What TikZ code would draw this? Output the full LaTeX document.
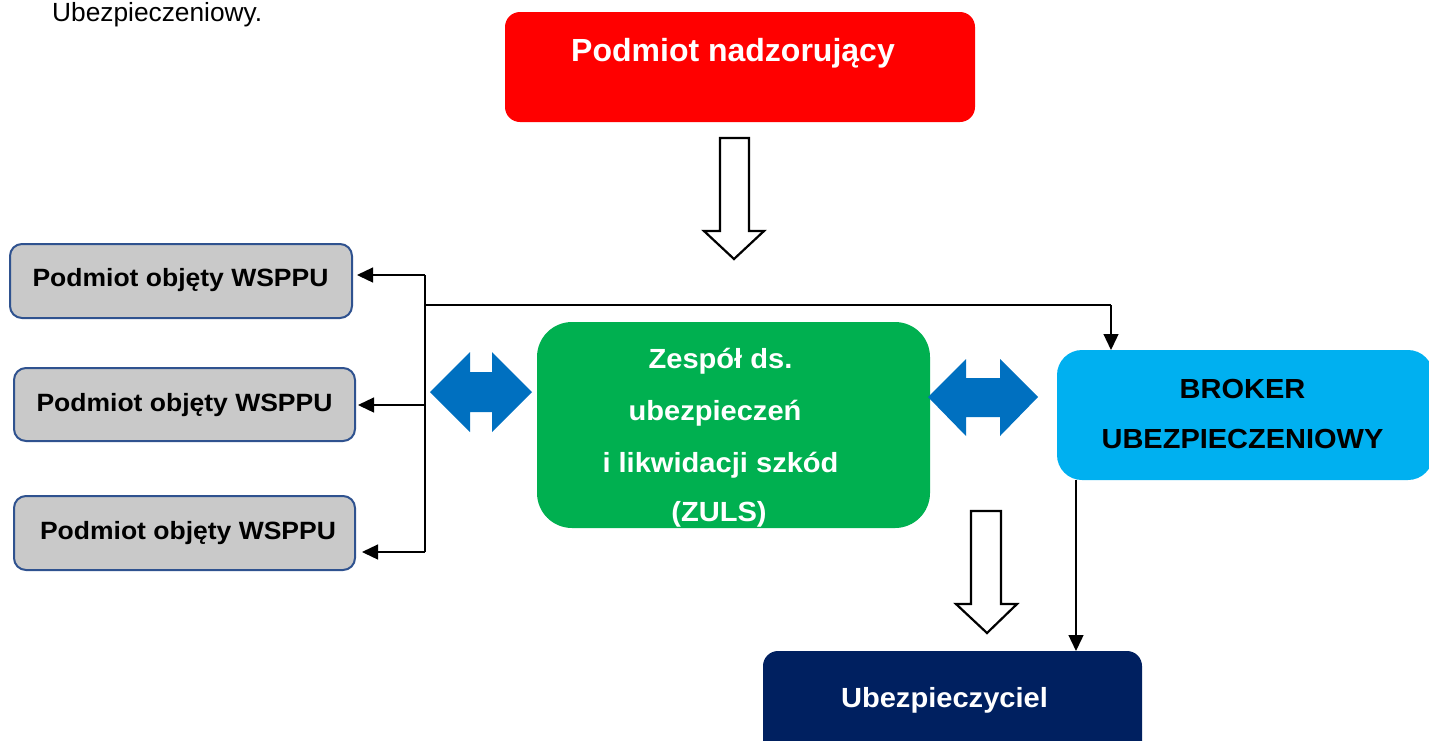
\documentclass[tikz,border=0pt]{standalone}
\usepackage{fontspec}
\setmainfont{Liberation Sans}
\newfontfamily\wideA[FakeStretch=1.05]{Liberation Sans}
\newfontfamily\wideB[FakeStretch=1.06]{Liberation Sans}
\usetikzlibrary{arrows.meta}
\definecolor{redbox}{RGB}{255,0,0}
\definecolor{greenbox}{RGB}{0,176,80}
\definecolor{cyanbox}{RGB}{0,176,240}
\definecolor{navybox}{RGB}{0,32,96}
\definecolor{graybox}{RGB}{201,201,201}
\definecolor{grayborder}{RGB}{47,82,143}
\definecolor{dblblue}{RGB}{0,112,192}
\tikzset{
  box/.style={rounded corners=#1, inner sep=0pt, outer sep=0pt},
  graynode/.style={box=12pt, fill=graybox, draw=grayborder, line width=2pt},
  conn/.style={line width=1.3pt, -{Triangle[length=16pt,width=15pt]}},
  plain/.style={line width=1.3pt},
  hollow/.style={draw=black, line width=2.2pt, fill=white, line join=miter},
  dbl/.style={fill=dblblue},
  btxt/.style={font=\wideB\fontsize{25}{30}\selectfont\bfseries, inner sep=0pt, anchor=base},
  wtxt/.style={font=\wideA\fontsize{27.7}{33}\selectfont\bfseries, text=white, inner sep=0pt, anchor=base},
  ktxt/.style={font=\wideA\fontsize{27.6}{33}\selectfont\bfseries, inner sep=0pt, anchor=base},
}
\begin{document}
\begin{tikzpicture}[x=1pt,y=-1pt]
\useasboundingbox (0,0) rectangle (1429,740);
\clip (0,0) rectangle (1429,740);
% top-left fragment
\node[anchor=base west, inner sep=0pt, font=\fontsize{26.3}{30}\selectfont] (frag) at (52,21) {Ubezpieczeniowy.};
% red box
\node[box=15pt, fill=redbox, minimum width=470pt, minimum height=110pt] (red) at (740,67) {};
\node[font=\fontsize{32}{38}\selectfont\bfseries, text=white, inner sep=0pt, anchor=base] (redt) at (733,61.7) {Podmiot nadzorujący};
% hollow arrow 1
\draw[hollow] (720,138) -- (749,138) -- (749,231) -- (764,231) -- (734,259) -- (704,231) -- (720,231) -- cycle;
% gray boxes
\node[graynode, minimum width=342pt, minimum height=74pt] (g1) at (181,281) {};
\node[btxt] (g1t) at (180.5,286) {Podmiot objęty WSPPU};
\node[graynode, minimum width=341pt, minimum height=73pt] (g2) at (184.5,404.5) {};
\node[btxt] (g2t) at (184.5,411) {Podmiot objęty WSPPU};
\node[graynode, minimum width=341pt, minimum height=74pt] (g3) at (184.5,533) {};
\node[btxt] (g3t) at (188,539) {Podmiot objęty WSPPU};
% green box
\node[box=35pt, fill=greenbox, minimum width=393pt, minimum height=206pt] (green) at (733.5,425) {};
\node[wtxt] (gt1) at (720.5,368.3) {Zespół ds.};
\node[wtxt] (gt2) at (715,420) {ubezpieczeń};
\node[wtxt] (gt3) at (720.5,472) {i likwidacji szkód};
\node[wtxt] (gt4) at (719,521) {(ZULS)};
% broker box
\node[box=25pt, fill=cyanbox, minimum width=376pt, minimum height=130pt] (broker) at (1245,415) {};
\node[ktxt] (bt1) at (1242.5,398) {BROKER};
\node[ktxt] (bt2) at (1242.5,448.5) {UBEZPIECZENIOWY};
% navy box
\node[box=15pt, fill=navybox, minimum width=379pt, minimum height=110pt] (navy) at (952.5,706) {};
\node[wtxt] (nt) at (944.5,707) {Ubezpieczyciel};
% double arrows
\fill[dbl] (430,392) -- (470,352) -- (470,372) -- (492,372) -- (492,352) -- (532,392) -- (492,432) -- (492,412) -- (470,412) -- (470,432) -- cycle;
\fill[dbl] (928,397) -- (966,359) -- (966,378) -- (1000,378) -- (1000,359) -- (1038,397) -- (1000,436) -- (1000,417) -- (966,417) -- (966,436) -- cycle;
% hollow arrow 2
\draw[hollow] (971,511) -- (1001,511) -- (1001,604) -- (1017,604) -- (987,633) -- (956,604) -- (971,604) -- cycle;
% connectors
\coordinate (ja) at (425,275);
\coordinate (jb) at (425,405);
\coordinate (jc) at (425,552);
\coordinate (jt) at (425,305);
\coordinate (jr) at (1111,305);
\draw[plain] (ja) -- (jc);
\draw[plain] (jt) -- (jr);
\draw[conn] (ja) -- ([xshift=5pt]g1.east |- ja);
\draw[conn] (jb) -- ([xshift=3pt]g2.east |- jb);
\draw[conn] (jc) -- ([xshift=7pt]g3.east |- jc);
\draw[conn] (jr) -- (jr |- broker.north);
\coordinate (bb) at (1076,480);
\draw[conn] (bb) -- (bb |- navy.north);
\end{tikzpicture}
\end{document}
